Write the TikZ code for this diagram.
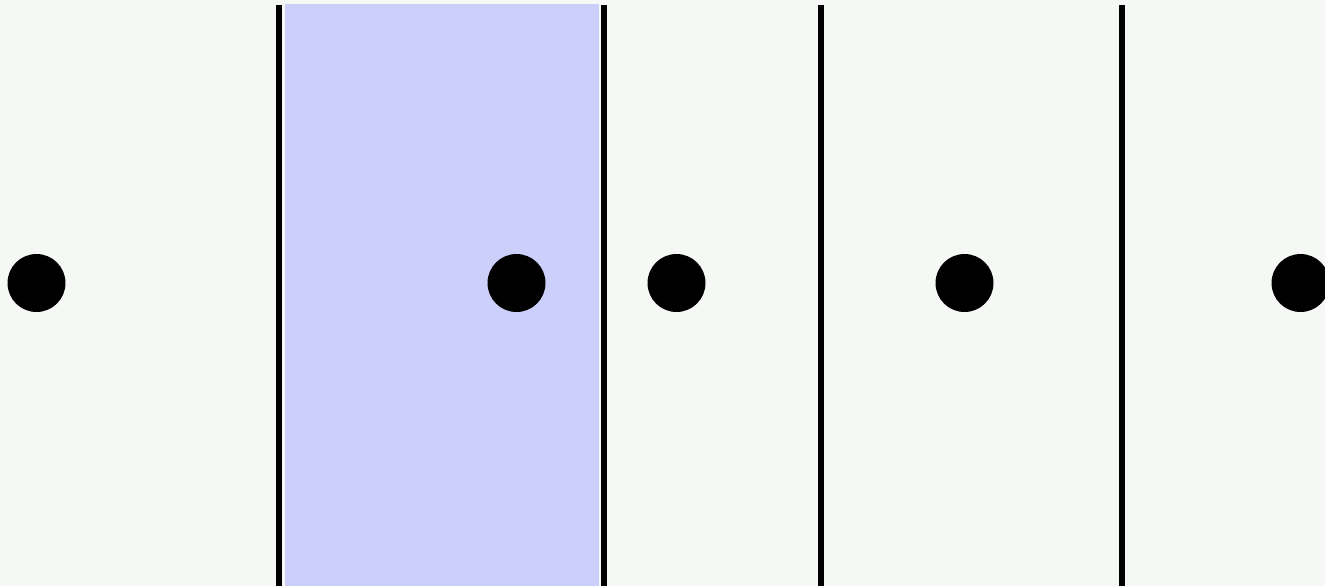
\documentclass[tikz,border=0pt]{standalone}
\usepackage{xcolor}
\usepackage{tikz}

\definecolor{pagebg}{RGB}{246,248,246}
\definecolor{bandblue}{RGB}{205,207,251}

\begin{document}
\begin{tikzpicture}[x=0.02cm,y=-0.02cm]
  \useasboundingbox (0,0) rectangle (1325,586);
  \fill[pagebg] (0,0) rectangle (1325,586);
  \fill[bandblue] (285,4) rectangle (599,586);
  \coordinate (t1) at (279,4.5);   \coordinate (b1) at (279,586);
  \coordinate (t2) at (603.5,4.5); \coordinate (b2) at (603.5,586);
  \coordinate (t3) at (820.5,4.5); \coordinate (b3) at (820.5,586);
  \coordinate (t4) at (1121.5,4.5);\coordinate (b4) at (1121.5,586);
  \draw[black, line width=0.12cm] (t1) -- (b1);
  \draw[black, line width=0.12cm] (t2) -- (b2);
  \draw[black, line width=0.12cm] (t3) -- (b3);
  \draw[black, line width=0.12cm] (t4) -- (b4);
  \node[circle,fill=black,inner sep=0pt,minimum size=1.16cm] (p0) at (36.5,283) {};
  \node[circle,fill=black,inner sep=0pt,minimum size=1.16cm] (p1) at (516.5,283) {};
  \node[circle,fill=black,inner sep=0pt,minimum size=1.16cm] (p2) at (676.5,283) {};
  \node[circle,fill=black,inner sep=0pt,minimum size=1.16cm] (p3) at (964.5,283) {};
  \node[circle,fill=black,inner sep=0pt,minimum size=1.16cm] (p4) at (1300.5,283) {};
\end{tikzpicture}
\end{document}
